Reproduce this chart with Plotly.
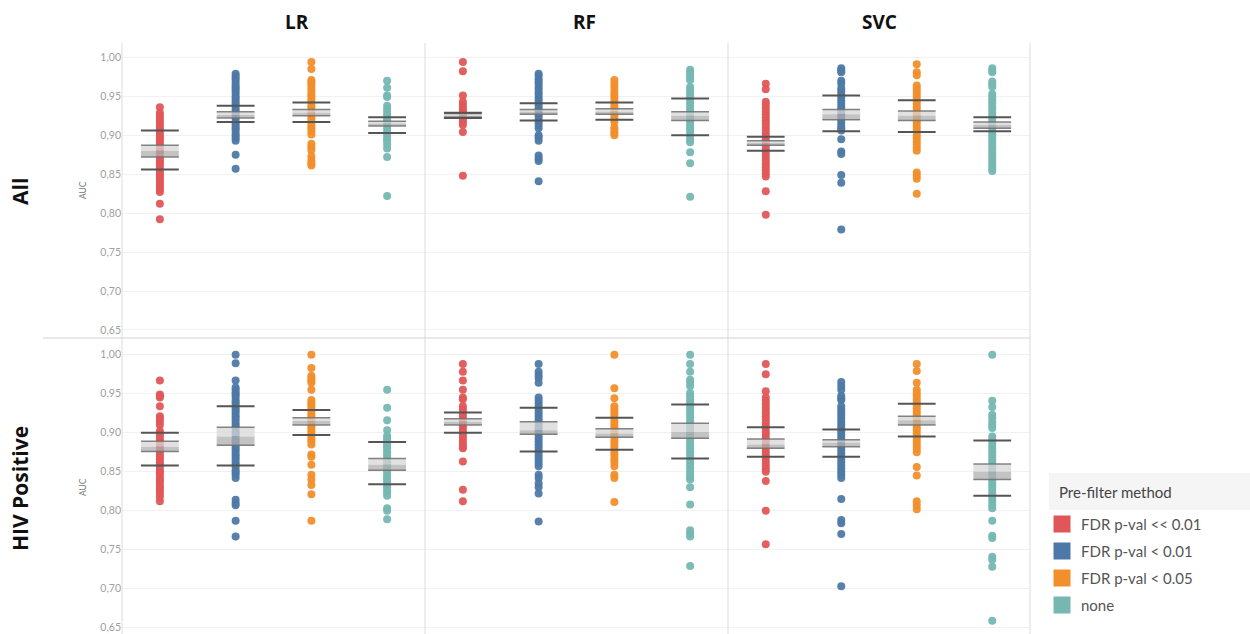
import plotly.graph_objects as go

# ---------------- data ----------------
MODELS = ["LR", "RF", "SVC"]
ROWS = ["All", "HIV Positive"]
METHODS = ["FDR p-val << 0.01", "FDR p-val < 0.01", "FDR p-val < 0.05", "none"]
COLORS = ["#e15759", "#4e79a7", "#f28e2b", "#76b7b2"]

TICK_VALUES = [0.65, 0.70, 0.75, 0.80, 0.85, 0.90, 0.95, 1.00]
TICK_LABELS = ["0,65", "0,70", "0,75", "0,80", "0,85", "0,90", "0,95", "1,00"]

# AUC values per run (All / LR)
all_lr_fdr001s = [0.936, 0.929, 0.925, 0.921, 0.918, 0.914, 0.910, 0.907, 0.904, 0.900, 0.897, 0.894, 0.890, 0.887,
                  0.884, 0.881, 0.878, 0.874, 0.871, 0.868, 0.865, 0.862, 0.858, 0.855, 0.852, 0.849, 0.846, 0.843,
                  0.840, 0.836, 0.833, 0.830, 0.827, 0.812, 0.792]
all_lr_fdr001 = [0.979, 0.976, 0.973, 0.970, 0.966, 0.963, 0.960, 0.957, 0.954, 0.950, 0.947, 0.944, 0.941, 0.938,
                 0.934, 0.931, 0.928, 0.925, 0.922, 0.918, 0.915, 0.912, 0.909, 0.906, 0.902, 0.899, 0.896, 0.893,
                 0.875, 0.857]
all_lr_fdr005 = [0.994, 0.985, 0.971, 0.968, 0.965, 0.961, 0.957, 0.953, 0.950, 0.946, 0.942, 0.938, 0.935, 0.931,
                 0.927, 0.923, 0.920, 0.916, 0.912, 0.909, 0.905, 0.901, 0.889, 0.885, 0.881, 0.873, 0.868, 0.864,
                 0.861]
all_lr_none = [0.970, 0.961, 0.951, 0.949, 0.938, 0.934, 0.930, 0.926, 0.922, 0.919, 0.915, 0.911, 0.907, 0.903,
               0.899, 0.895, 0.893, 0.888, 0.883, 0.872, 0.822]

# All / RF
all_rf_fdr001s = [0.994, 0.982, 0.951, 0.943, 0.939, 0.935, 0.932, 0.929, 0.926, 0.923, 0.920, 0.917, 0.913, 0.904,
                  0.848]
all_rf_fdr001 = [0.979, 0.976, 0.972, 0.969, 0.966, 0.962, 0.959, 0.955, 0.952, 0.948, 0.945, 0.941, 0.938, 0.934,
                 0.931, 0.927, 0.924, 0.920, 0.917, 0.913, 0.909, 0.900, 0.897, 0.893, 0.874, 0.870, 0.867, 0.841]
all_rf_fdr005 = [0.971, 0.966, 0.962, 0.957, 0.953, 0.949, 0.945, 0.941, 0.937, 0.933, 0.929, 0.925, 0.921, 0.917,
                 0.910, 0.906, 0.903, 0.900]
all_rf_none = [0.984, 0.981, 0.977, 0.974, 0.971, 0.962, 0.958, 0.954, 0.950, 0.946, 0.942, 0.938, 0.934, 0.930,
               0.926, 0.922, 0.918, 0.914, 0.910, 0.906, 0.902, 0.898, 0.894, 0.891, 0.878, 0.864, 0.821]

# All / SVC
all_svc_fdr001s = [0.966, 0.959, 0.943, 0.939, 0.935, 0.931, 0.927, 0.923, 0.919, 0.915, 0.911, 0.907, 0.903, 0.899,
                   0.895, 0.891, 0.887, 0.883, 0.879, 0.875, 0.871, 0.867, 0.863, 0.859, 0.855, 0.851, 0.847, 0.828,
                   0.798]
all_svc_fdr001 = [0.986, 0.983, 0.981, 0.970, 0.966, 0.960, 0.956, 0.952, 0.948, 0.944, 0.940, 0.936, 0.932, 0.928,
                  0.924, 0.920, 0.916, 0.912, 0.909, 0.906, 0.895, 0.879, 0.876, 0.849, 0.839, 0.779]
all_svc_fdr005 = [0.991, 0.981, 0.977, 0.964, 0.960, 0.956, 0.952, 0.948, 0.944, 0.940, 0.936, 0.932, 0.928, 0.924,
                  0.920, 0.916, 0.912, 0.908, 0.904, 0.900, 0.896, 0.892, 0.888, 0.884, 0.880, 0.852, 0.848, 0.844,
                  0.825]
all_svc_none = [0.986, 0.983, 0.981, 0.969, 0.965, 0.962, 0.953, 0.949, 0.945, 0.941, 0.937, 0.933, 0.929, 0.925,
                0.921, 0.917, 0.913, 0.909, 0.905, 0.901, 0.897, 0.893, 0.889, 0.885, 0.881, 0.877, 0.873, 0.869,
                0.865, 0.861, 0.857, 0.854]

# HIV Positive / LR
hiv_lr_fdr001s = [0.967, 0.949, 0.947, 0.945, 0.934, 0.921, 0.918, 0.914, 0.910, 0.902, 0.899, 0.896, 0.892, 0.889,
                  0.886, 0.882, 0.879, 0.876, 0.872, 0.869, 0.866, 0.862, 0.859, 0.856, 0.852, 0.849, 0.846, 0.842,
                  0.839, 0.836, 0.832, 0.829, 0.826, 0.822, 0.818, 0.812]
hiv_lr_fdr001 = [1.000, 0.989, 0.967, 0.958, 0.955, 0.952, 0.949, 0.946, 0.942, 0.939, 0.936, 0.932, 0.929, 0.926,
                 0.922, 0.919, 0.916, 0.912, 0.909, 0.906, 0.902, 0.899, 0.896, 0.892, 0.889, 0.886, 0.882, 0.879,
                 0.876, 0.872, 0.869, 0.866, 0.862, 0.859, 0.856, 0.852, 0.849, 0.846, 0.842, 0.814, 0.810, 0.807,
                 0.787, 0.767]
hiv_lr_fdr005 = [1.000, 0.983, 0.973, 0.970, 0.967, 0.964, 0.955, 0.942, 0.938, 0.935, 0.931, 0.928, 0.924, 0.921,
                 0.917, 0.914, 0.910, 0.907, 0.903, 0.900, 0.896, 0.892, 0.889, 0.885, 0.872, 0.869, 0.859, 0.846,
                 0.840, 0.833, 0.821, 0.787]
hiv_lr_none = [0.955, 0.932, 0.916, 0.903, 0.896, 0.893, 0.890, 0.886, 0.883, 0.880, 0.876, 0.873, 0.870, 0.866,
               0.863, 0.860, 0.856, 0.853, 0.850, 0.846, 0.843, 0.840, 0.836, 0.833, 0.830, 0.826, 0.823, 0.819,
               0.803, 0.800, 0.789]

# HIV Positive / RF
hiv_rf_fdr001s = [0.988, 0.978, 0.967, 0.955, 0.945, 0.943, 0.934, 0.930, 0.926, 0.922, 0.918, 0.914, 0.910, 0.906,
                  0.902, 0.898, 0.894, 0.890, 0.886, 0.882, 0.880, 0.863, 0.827, 0.812]
hiv_rf_fdr001 = [0.988, 0.978, 0.974, 0.970, 0.964, 0.945, 0.941, 0.937, 0.933, 0.929, 0.925, 0.921, 0.917, 0.913,
                 0.909, 0.905, 0.901, 0.897, 0.893, 0.889, 0.885, 0.881, 0.877, 0.873, 0.869, 0.865, 0.861, 0.857,
                 0.846, 0.842, 0.835, 0.830, 0.822, 0.786]
hiv_rf_fdr005 = [1.000, 0.957, 0.944, 0.934, 0.930, 0.926, 0.922, 0.918, 0.914, 0.910, 0.906, 0.902, 0.898, 0.894,
                 0.890, 0.886, 0.882, 0.878, 0.874, 0.870, 0.866, 0.862, 0.857, 0.846, 0.842, 0.811]
hiv_rf_none = [1.000, 0.988, 0.978, 0.968, 0.964, 0.960, 0.951, 0.947, 0.943, 0.939, 0.935, 0.931, 0.927, 0.923,
               0.919, 0.915, 0.911, 0.907, 0.903, 0.899, 0.895, 0.891, 0.887, 0.883, 0.879, 0.875, 0.871, 0.867,
               0.863, 0.859, 0.855, 0.851, 0.847, 0.843, 0.840, 0.830, 0.808, 0.775, 0.771, 0.767, 0.729]

# HIV Positive / SVC
hiv_svc_fdr001s = [0.988, 0.975, 0.953, 0.945, 0.941, 0.937, 0.933, 0.929, 0.925, 0.921, 0.917, 0.913, 0.909, 0.905,
                   0.901, 0.897, 0.893, 0.889, 0.885, 0.881, 0.877, 0.873, 0.869, 0.865, 0.861, 0.857, 0.853, 0.850,
                   0.838, 0.800, 0.757]
hiv_svc_fdr001 = [0.965, 0.960, 0.955, 0.947, 0.944, 0.942, 0.934, 0.930, 0.926, 0.922, 0.918, 0.914, 0.910, 0.906,
                  0.902, 0.898, 0.894, 0.890, 0.886, 0.882, 0.878, 0.874, 0.870, 0.866, 0.862, 0.858, 0.854, 0.850,
                  0.846, 0.842, 0.815, 0.788, 0.784, 0.770, 0.703]
hiv_svc_fdr005 = [0.988, 0.979, 0.964, 0.955, 0.951, 0.947, 0.943, 0.939, 0.935, 0.931, 0.927, 0.923, 0.919, 0.915,
                  0.911, 0.907, 0.903, 0.899, 0.895, 0.891, 0.887, 0.883, 0.879, 0.875, 0.856, 0.845, 0.812, 0.807,
                  0.802]
hiv_svc_none = [1.000, 0.941, 0.933, 0.923, 0.919, 0.914, 0.910, 0.906, 0.895, 0.891, 0.887, 0.883, 0.879, 0.875,
                0.871, 0.867, 0.863, 0.859, 0.855, 0.851, 0.847, 0.843, 0.839, 0.835, 0.831, 0.827, 0.823, 0.819,
                0.815, 0.811, 0.807, 0.803, 0.787, 0.768, 0.765, 0.741, 0.737, 0.728, 0.659]

POINTS = [
    [[all_lr_fdr001s, all_lr_fdr001, all_lr_fdr005, all_lr_none],
     [all_rf_fdr001s, all_rf_fdr001, all_rf_fdr005, all_rf_none],
     [all_svc_fdr001s, all_svc_fdr001, all_svc_fdr005, all_svc_none]],
    [[hiv_lr_fdr001s, hiv_lr_fdr001, hiv_lr_fdr005, hiv_lr_none],
     [hiv_rf_fdr001s, hiv_rf_fdr001, hiv_rf_fdr005, hiv_rf_none],
     [hiv_svc_fdr001s, hiv_svc_fdr001, hiv_svc_fdr005, hiv_svc_none]],
]

# distribution band values: [mean-sd, ci low, mean, ci high, mean+sd]
BANDS = [
    [[[0.856, 0.872, 0.880, 0.887, 0.906], [0.917, 0.922, 0.926, 0.930, 0.938],
      [0.917, 0.925, 0.929, 0.933, 0.942], [0.903, 0.912, 0.915, 0.918, 0.923]],
     [[0.922, 0.923, 0.925, 0.928, 0.929], [0.919, 0.927, 0.930, 0.933, 0.941],
      [0.920, 0.927, 0.930, 0.934, 0.942], [0.900, 0.919, 0.925, 0.930, 0.947]],
     [[0.880, 0.887, 0.890, 0.893, 0.898], [0.905, 0.920, 0.927, 0.933, 0.951],
      [0.904, 0.919, 0.925, 0.931, 0.945], [0.905, 0.909, 0.913, 0.917, 0.923]]],
    [[[0.858, 0.876, 0.882, 0.889, 0.900], [0.858, 0.884, 0.895, 0.907, 0.934],
      [0.897, 0.910, 0.915, 0.919, 0.929], [0.834, 0.852, 0.859, 0.867, 0.888]],
     [[0.900, 0.910, 0.914, 0.918, 0.926], [0.876, 0.898, 0.903, 0.914, 0.932],
      [0.878, 0.894, 0.899, 0.905, 0.919], [0.867, 0.893, 0.901, 0.912, 0.936]],
     [[0.869, 0.880, 0.885, 0.892, 0.907], [0.869, 0.882, 0.887, 0.891, 0.904],
      [0.895, 0.910, 0.916, 0.921, 0.937], [0.819, 0.840, 0.850, 0.860, 0.890]]],
]

# ---------------- layout geometry (pixels) ----------------
W, H = 1250, 634
COL_PX = [(122, 425), (425, 728), (728, 1030)]
ROW_PX = [(43, 338), (338, 634)]
Y_RANGES = [[0.6397, 1.0184], [0.6419, 1.0214]]


def px_x(p):
    return p / W


def px_y(p):
    return 1 - p / H


fig = go.Figure()
layout = dict(
    width=W, height=H, margin=dict(l=0, r=0, t=0, b=0),
    paper_bgcolor="white", plot_bgcolor="white", showlegend=False,
    font=dict(family="Lato, 'Open Sans', sans-serif", color="#555"),
)
shapes = []
annotations = []

for r in range(2):
    for c in range(3):
        k = r * 3 + c + 1
        xa = "x" if k == 1 else f"x{k}"
        ya = "y" if k == 1 else f"y{k}"
        layout["xaxis" if k == 1 else f"xaxis{k}"] = dict(
            domain=[px_x(COL_PX[c][0]), px_x(COL_PX[c][1])], anchor=ya,
            type="category", categoryorder="array", categoryarray=METHODS,
            range=[-0.5, 3.5], showticklabels=False, showgrid=False,
            zeroline=False, showline=False, ticks="", fixedrange=True,
        )
        layout["yaxis" if k == 1 else f"yaxis{k}"] = dict(
            domain=[px_y(ROW_PX[r][1]), px_y(ROW_PX[r][0])], anchor=xa,
            range=Y_RANGES[r], tickvals=TICK_VALUES, ticktext=TICK_LABELS,
            showticklabels=(c == 0), showgrid=True, gridcolor="#f1f1f1", gridwidth=1,
            zeroline=False, showline=False, ticks="", fixedrange=True,
            tickfont=dict(size=10.5, color="#a0a0a0", family="Lato, sans-serif"),
        )
        for m, method in enumerate(METHODS):
            vals = POINTS[r][c][m]
            fig.add_trace(go.Scatter(
                x=[method] * len(vals), y=vals, mode="markers", xaxis=xa, yaxis=ya,
                marker=dict(size=8, color=COLORS[m], opacity=0.95, line=dict(width=0)),
                name=method, hoverinfo="y",
            ))
            sd_lo, ci_lo, mean, ci_hi, sd_hi = BANDS[r][c][m]
            hw = 0.25
            # CI band (upper lighter, lower darker)
            shapes.append(dict(type="rect", xref=xa, yref=ya, x0=m - hw, x1=m + hw, y0=mean, y1=ci_hi,
                               fillcolor="rgba(215,215,215,0.75)", line=dict(width=0), layer="above"))
            shapes.append(dict(type="rect", xref=xa, yref=ya, x0=m - hw, x1=m + hw, y0=ci_lo, y1=mean,
                               fillcolor="rgba(175,175,175,0.75)", line=dict(width=0), layer="above"))
            for yv in (ci_lo, ci_hi):
                shapes.append(dict(type="line", xref=xa, yref=ya, x0=m - hw, x1=m + hw, y0=yv, y1=yv,
                                   line=dict(color="rgba(110,110,110,0.85)", width=1.5), layer="above"))
            for yv in (sd_lo, sd_hi):
                shapes.append(dict(type="line", xref=xa, yref=ya, x0=m - hw, x1=m + hw, y0=yv, y1=yv,
                                   line=dict(color="#555555", width=2), layer="above"))

# pane divider lines
for xp in (COL_PX[0][0], COL_PX[1][0], COL_PX[2][0], COL_PX[2][1]):
    shapes.append(dict(type="line", xref="paper", yref="paper", x0=px_x(xp), x1=px_x(xp),
                       y0=px_y(43), y1=px_y(H), line=dict(color="#e2e2e2", width=1.2)))
shapes.append(dict(type="line", xref="paper", yref="paper", x0=px_x(43), x1=px_x(1030),
                   y0=px_y(338), y1=px_y(338), line=dict(color="#d4d4d4", width=1.2)))

# column headers
HEADER_X = [297, 584, 879]
for c, name in enumerate(MODELS):
    annotations.append(dict(text=f"<b>{name}</b>", x=px_x(HEADER_X[c]), y=px_y(22), xref="paper", yref="paper",
                            showarrow=False, xanchor="center", yanchor="middle",
                            font=dict(size=19, color="#111", family="'Open Sans', sans-serif")))
# row headers + AUC titles
ROW_CY = [192, 489]
AUC_CY = [190, 487]
for r, name in enumerate(ROWS):
    annotations.append(dict(text=f"<b>{name}</b>", x=px_x(20), y=px_y(ROW_CY[r]), xref="paper", yref="paper",
                            showarrow=False, textangle=-90, xanchor="center", yanchor="middle",
                            font=dict(size=21, color="#111", family="'Open Sans', sans-serif")))
    annotations.append(dict(text="AUC", x=px_x(83), y=px_y(AUC_CY[r]), xref="paper", yref="paper",
                            showarrow=False, textangle=-90, xanchor="center", yanchor="middle",
                            font=dict(size=8.5, color="#777", family="Lato, sans-serif")))

# legend (drawn manually)
shapes.append(dict(type="rect", xref="paper", yref="paper", x0=px_x(1049), x1=px_x(1250),
                   y0=px_y(510), y1=px_y(473), fillcolor="#f5f5f5", line=dict(width=0)))
annotations.append(dict(text="Pre-filter method", x=px_x(1057), y=px_y(492), xref="paper", yref="paper",
                        showarrow=False, xanchor="left", yanchor="middle",
                        font=dict(size=15, color="#444", family="Lato, sans-serif")))
LEG_Y = [524, 551, 578, 605]
for m, method in enumerate(METHODS):
    shapes.append(dict(type="rect", xref="paper", yref="paper", x0=px_x(1053), x1=px_x(1071),
                       y0=px_y(LEG_Y[m] + 9), y1=px_y(LEG_Y[m] - 9), fillcolor=COLORS[m],
                       line=dict(color="white", width=1)))
    annotations.append(dict(text=method, x=px_x(1079), y=px_y(LEG_Y[m]), xref="paper", yref="paper",
                            showarrow=False, xanchor="left", yanchor="middle",
                            font=dict(size=15, color="#555", family="Lato, sans-serif")))

layout["shapes"] = shapes
layout["annotations"] = annotations
fig.update_layout(**layout)
fig.write_html("out.html")
